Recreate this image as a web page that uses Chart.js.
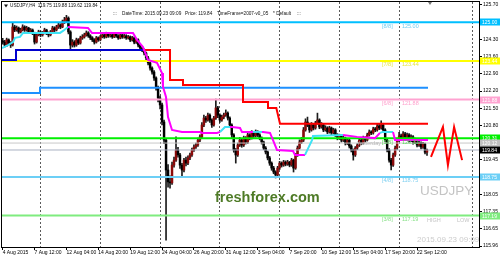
<!DOCTYPE html>
<html>
<head>
<meta charset="utf-8">
<title>USDJPY H4</title>
<script src="https://cdn.jsdelivr.net/npm/chart.js@4.4.0/dist/chart.umd.min.js"></script>
<style>
  html, body { margin: 0; padding: 0; background: #fff; }
  canvas { display: block; }
</style>
</head>
<body>
<canvas id="chart" width="500" height="258"></canvas>
<script>
"use strict";

// H4 bars from 4 Aug 2015 20:00, bar index = position on the axis
var firstOpen = 124.25;
var closes = [
  124.20,124.08,124.29,124.16,124.08,124.81,124.69,124.77,124.61,124.69,
  124.81,124.69,124.77,124.61,124.69,124.57,124.20,124.49,124.61,124.49,
  124.57,124.69,124.57,124.49,124.61,124.77,124.69,124.81,124.89,124.81,
  125.01,125.09,125.17,124.61,124.08,124.20,124.08,124.29,124.16,124.37,
  124.41,124.49,124.57,124.45,124.37,124.29,124.20,124.37,124.29,124.41,
  124.49,124.41,124.53,124.45,124.49,124.41,124.53,124.45,124.37,124.49,
  124.41,124.45,124.37,124.41,124.29,124.37,124.20,124.29,124.08,123.96,
  123.88,123.76,123.56,123.36,123.15,122.99,122.75,122.35,121.94,121.66,
  120.97,120.24,119.03,118.55,118.51,119.23,119.43,119.84,119.64,119.23,
  119.03,119.43,119.31,119.52,119.64,119.84,119.96,120.04,120.24,120.37,
  120.85,121.13,121.05,121.25,121.05,120.85,121.13,121.54,121.25,121.05,
  121.17,121.25,121.33,121.13,120.85,120.45,119.84,119.64,120.04,120.24,
  120.04,120.32,120.16,120.45,120.32,120.53,120.41,120.57,120.45,120.32,
  120.16,119.92,119.76,119.52,119.31,119.11,118.95,118.83,119.11,119.31,
  119.23,119.35,119.27,119.35,119.23,119.43,119.11,119.64,119.92,120.16,
  120.24,120.65,120.97,120.85,120.65,120.85,120.73,120.93,121.05,120.77,
  120.85,120.65,120.73,120.57,120.73,120.53,120.65,120.45,120.32,120.41,
  120.24,120.32,120.12,120.24,120.00,119.84,119.64,119.92,120.04,120.24,
  120.12,120.32,120.24,120.45,120.57,120.53,120.69,120.65,120.81,120.73,
  120.85,120.65,120.24,119.84,119.43,119.23,119.64,119.92,120.24,120.41,
  120.32,120.49,120.37,120.45,120.24,120.37,120.16,120.24,120.04,120.12,
  119.96,120.08,119.75,119.84
];
var highs = [
  124.35,124.27,124.36,124.33,124.22,124.97,124.88,124.85,124.81,124.76,
  124.90,124.86,124.84,124.80,124.75,124.73,124.60,124.55,124.68,124.65,
  124.63,124.76,124.72,124.61,124.67,124.84,124.82,124.88,124.96,124.94,
  125.09,125.20,125.28,125.22,124.66,124.30,124.26,124.36,124.34,124.44,
  124.50,124.56,124.65,124.62,124.50,124.42,124.34,124.43,124.41,124.47,
  124.56,124.54,124.60,124.58,124.55,124.53,124.59,124.57,124.50,124.55,
  124.53,124.51,124.50,124.47,124.45,124.43,124.41,124.35,124.33,124.13,
  124.02,123.93,123.80,123.62,123.42,123.20,123.05,122.80,122.42,122.02,
  121.74,121.05,120.30,119.25,118.80,119.35,119.55,120.37,119.95,119.70,
  119.30,119.50,119.55,119.60,119.72,119.92,120.05,120.12,120.32,120.45,
  120.95,121.25,121.20,121.33,121.30,121.10,121.20,121.90,121.60,121.30,
  121.25,121.33,121.46,121.38,121.18,120.90,120.50,119.90,120.12,120.35,
  120.30,120.40,120.38,120.53,120.50,120.62,120.58,120.65,120.62,120.50,
  120.37,120.20,119.98,119.80,119.58,119.36,119.18,119.00,119.18,119.38,
  119.36,119.42,119.40,119.42,119.38,119.50,119.47,119.70,120.00,120.25,
  120.35,120.75,121.10,121.17,120.92,120.95,120.90,121.00,121.33,121.10,
  120.95,120.90,120.82,120.78,120.80,120.77,120.72,120.70,120.50,120.48,
  120.45,120.40,120.36,120.30,120.28,120.05,119.88,119.98,120.10,120.30,
  120.30,120.40,120.38,120.52,120.65,120.62,120.76,120.75,120.90,120.88,
  121.02,120.92,120.70,120.30,119.90,119.50,119.72,120.00,120.32,120.55,
  120.48,120.58,120.55,120.52,120.50,120.45,120.42,120.32,120.30,120.20,
  120.17,120.15,120.12,119.88
];
var lows = [
  124.12,124.00,124.02,124.10,123.98,124.04,124.62,124.64,124.55,124.57,
  124.65,124.63,124.64,124.55,124.57,124.50,124.12,124.16,124.45,124.42,
  124.44,124.53,124.50,124.41,124.45,124.57,124.62,124.65,124.75,124.74,
  124.78,124.95,125.02,124.53,123.88,124.00,124.00,124.03,124.10,124.12,
  124.31,124.36,124.44,124.39,124.30,124.22,124.12,124.16,124.23,124.25,
  124.37,124.35,124.37,124.39,124.40,124.35,124.38,124.39,124.31,124.33,
  124.35,124.36,124.31,124.32,124.22,124.24,124.13,124.15,124.00,123.90,
  123.81,123.68,123.48,123.28,123.07,122.90,122.65,122.26,121.78,121.50,
  120.85,120.10,116.20,118.34,118.30,118.45,119.15,119.38,119.55,119.10,
  118.75,118.95,119.20,119.25,119.45,119.58,119.78,119.90,119.98,120.18,
  120.32,120.78,120.95,121.00,120.95,120.75,120.80,121.08,121.15,120.95,
  121.00,121.10,121.20,121.05,120.75,120.35,119.75,119.31,119.58,119.98,
  119.95,119.98,120.08,120.10,120.25,120.28,120.35,120.36,120.38,120.25,
  120.08,119.85,119.68,119.44,119.22,119.02,118.88,118.71,118.78,119.05,
  119.15,119.18,119.20,119.22,119.16,119.18,118.95,119.06,119.58,119.88,
  120.10,120.18,120.60,120.78,120.55,120.60,120.65,120.68,120.88,120.70,
  120.72,120.58,120.60,120.50,120.52,120.45,120.48,120.38,120.25,120.27,
  120.16,120.18,120.04,120.06,119.92,119.76,119.43,119.58,119.86,119.98,
  120.05,120.08,120.16,120.20,120.40,120.46,120.48,120.58,120.60,120.66,
  120.68,120.58,120.16,119.76,119.35,119.03,119.18,119.58,119.86,120.18,
  120.25,120.27,120.30,120.32,120.16,120.18,120.08,120.10,119.96,119.98,
  119.88,119.90,119.68,119.62
];

// time axis
var xTickBars = [0,16,32,48,64,80,96,112,128,144,160,176,192,208];
var xTickLabels = ['4 Aug 2015','7 Aug 12:00','12 Aug 04:00','14 Aug 20:00','19 Aug 12:00',
  '24 Aug 04:00','26 Aug 20:00','31 Aug 12:00','3 Sep 04:00','7 Sep 20:00','10 Sep 12:00',
  '15 Sep 04:00','17 Sep 20:00','22 Sep 12:00'];
var gridBars = [19,49,79,109,139,169,199,236];

// price axis
var yTicks = [125.70,125.00,124.31,123.61,122.92,122.22,121.53,120.83,120.14,119.44,118.75,118.05,117.35,116.66,115.96];
var yTickText = ['125.70','125.00','124.30','123.60','122.90','122.20','121.50','120.80','120.13','119.45',
  '118.75','118.05','117.35','116.65','115.96'];

// Murrey math levels
var murreyValues = [125.00, 123.44, 121.88, 120.31, 118.75, 117.19];
var murreyTags = ['[8/8]','[7/8]','[6/8]','[5/8]','[4/8]','[3/8]'];
var murreyText = ['125.00','123.44','121.88','120.31','118.75','117.19'];
var yesterdayClose = 120.12;
var lastPrice = 119.84;

// dodger blue step level
var blueBars = [-0.35, 18.72, 18.72, 213.5];
var blueValues = [122.14, 122.14, 122.35, 122.35];
// trailing stops
var supportBars = [-0.35, 6.68, 6.68, 70.43];
var supportValues = [123.48, 123.48, 123.88, 123.88];
var resistBars = [67.42, 83.99, 83.99, 90.51, 90.51, 120.63, 120.63, 133.18, 133.18, 137.36, 139.21, 213.5];
var resistValues = [123.88, 123.88, 122.67, 122.67, 122.47, 122.47, 121.78, 121.78, 121.54, 121.54, 120.90, 120.90];
// two-coloured trend line (1 = up / cyan, 0 = down / magenta)
var trendBars = [-0.35,2.66,5.17,6.17,8.68,10.19,28.76,30.27,32.78,42.82,44.83,65.41,67.42,70.43,72.94,77.46,
  79.97,80.47,81.98,82.99,84.99,90.01,99.05,100.05,107.58,109.09,111.6,114.11,115.11,119.13,120.13,
  125.65,126.66,130.17,130.67,134.19,135.69,137.7,145.73,146.74,151.76,155.27,155.77,170.83,177.86,
  186.9,189.4,190.92,195.94,196.94,213.5];
var trendValues = [123.96,124.08,124.20,124.37,124.41,124.57,124.57,124.65,124.81,124.77,124.57,124.57,124.29,
  124.00,123.48,123.36,122.95,122.39,121.98,121.17,120.65,120.57,120.57,120.53,120.53,120.57,120.77,
  120.77,120.77,120.73,120.57,120.57,120.57,120.57,120.57,120.53,120.24,119.84,119.80,119.64,119.64,
  120.24,120.41,120.45,120.37,120.32,120.53,120.57,120.57,120.24,120.24];
var trendUp = [1,1,1,1,1,1,1,1,0,0,0,0,0,0,0,0,0,0,0,0,0,0,0,0,0,1,1,0,0,0,0,1,1,0,0,0,0,0,0,0,
  1,1,1,0,0,0,1,1,0,0,0];
// projected zigzag
var zigBars = [215.0, 221.0, 223.5, 226.6, 230.6];
var zigValues = [119.56, 120.77, 119.23, 120.77, 119.43];

var X_MIN = -0.35, X_MAX = 239.1;
var Y_MIN = 115.92, Y_MAX = 125.82;
var FONT = '"Liberation Sans", Arial, sans-serif';

var bars = closes.map(function (c, i) { return i; });
var opens = closes.map(function (c, i) { return i === 0 ? firstOpen : closes[i - 1]; });

function points(xs, ys) {
  return xs.map(function (x, i) { return {x: x, y: ys[i]}; });
}

function lineSet(data, color, width, order) {
  return {
    type: 'line', data: data, borderColor: color, borderWidth: width,
    pointRadius: 0, fill: false, tension: 0, order: order,
    xAxisID: 'x', yAxisID: 'y'
  };
}

var murreyColors = ['#00bfff', '#ffff00', '#ffa3d1', '#00f000', '#6ccff6', '#7fec7f'];
var murreyTextColors = ['#6fcdf2', '#e6e640', '#ff9fcc', '#55d855', '#7dcff0', '#86e086'];

var datasets = [];

// candles: wicks then bodies
datasets.push({
  data: bars.map(function (i) { return {x: i, y: [lows[i], highs[i]]}; }),
  backgroundColor: '#1c1c1c', barThickness: 1, grouped: false, order: 10,
  xAxisID: 'x', yAxisID: 'y'
});
datasets.push({
  data: bars.map(function (i) { return {x: i, y: [opens[i], closes[i]]}; }),
  backgroundColor: function (ctx) {
    var i = ctx.dataIndex;
    return closes[i] >= opens[i] ? '#8b0a0a' : '#000000';
  },
  barThickness: 1.8, minBarLength: 1, grouped: false, order: 9,
  xAxisID: 'x', yAxisID: 'y'
});

murreyValues.forEach(function (v, k) {
  datasets.push(lineSet(points([X_MIN, X_MAX], [v, v]), murreyColors[k], 2, 5));
});
datasets.push(lineSet(points([X_MIN, X_MAX], [yesterdayClose, yesterdayClose]), '#c8c8c8', 1, 5));
datasets.push(lineSet(points([X_MIN, X_MAX], [lastPrice, lastPrice]), '#a9b1c2', 1, 5));
datasets.push(lineSet(points(blueBars, blueValues), '#1e90ff', 2, 4));
datasets.push(lineSet(points(supportBars, supportValues), '#0000cd', 2, 2));
datasets.push(lineSet(points(resistBars, resistValues), '#ff0000', 2, 2));

var trend = lineSet(points(trendBars, trendValues), '#ff00ff', 2, 1);
trend.segment = {
  borderColor: function (ctx) { return trendUp[ctx.p0DataIndex] ? '#3ee3f5' : '#ff00ff'; }
};
datasets.push(trend);
datasets.push(lineSet(points(zigBars, zigValues), '#ff0000', 2, 1));

// text, labels and price tags
var overlay = {
  id: 'overlay',
  beforeDatasetsDraw: function (chart) {
    var ctx = chart.ctx, a = chart.chartArea;
    ctx.save();
    ctx.beginPath();
    ctx.rect(a.left, a.top, a.right - a.left, a.bottom - a.top);
    ctx.clip();
    ctx.textBaseline = 'alphabetic';
    ctx.fillStyle = '#4e7b26';
    ctx.font = 'bold 14.5px ' + FONT;
    ctx.fillText('freshforex.com', 215, 202);
    ctx.fillStyle = '#c4c4c4';
    ctx.font = '13.5px ' + FONT;
    ctx.fillText('USDJPY', 420, 195);
    ctx.font = '5.5px ' + FONT;
    ctx.fillText('HIGH', 427, 222);
    ctx.fillText('LOW', 457, 222);
    ctx.fillStyle = '#cdcdcd';
    ctx.font = '8px ' + FONT;
    ctx.fillText('2015.09.23 09:09', 417, 242);
    ctx.restore();
  },
  afterDatasetsDraw: function (chart) {
    var ctx = chart.ctx, xs = chart.scales.x, ys = chart.scales.y;
    ctx.save();
    ctx.textBaseline = 'middle';
    ctx.font = '5.5px ' + FONT;
    murreyValues.forEach(function (v, k) {
      var y = ys.getPixelForValue(v) + 4;
      ctx.fillStyle = murreyTextColors[k];
      ctx.fillText(murreyTags[k], xs.getPixelForValue(190.4), y);
      ctx.fillText(murreyText[k], xs.getPixelForValue(200.4), y);
    });
    ctx.fillStyle = '#b8b8b8';
    ctx.textAlign = 'right';
    ctx.fillText('Yesterday', xs.getPixelForValue(189.9), ys.getPixelForValue(yesterdayClose));
    ctx.textAlign = 'left';

    // header
    ctx.fillStyle = '#111';
    ctx.font = '4.7px ' + FONT;
    ctx.fillText('USDJPY,H4  119.75 119.88 119.62 119.84', 10, 6);
    ctx.fillText(':::', 113, 13.5);
    ctx.fillText('DateTime: 2015.09.23 09:09', 122, 13.5);
    ctx.fillText('Price: 119.84', 185, 13.5);
    ctx.fillText('TimeFrame=2007-v0_05', 217, 13.5);
    ctx.fillText('* Default', 273, 13.5);
    ctx.fillText(':::', 297, 13.5);
    ctx.beginPath();
    ctx.moveTo(4, 4.5); ctx.lineTo(8, 4.5); ctx.lineTo(6, 7.5);
    ctx.closePath();
    ctx.fill();
    // shift marker
    var sx = xs.getPixelForValue(214.5);
    ctx.fillStyle = '#777';
    ctx.beginPath();
    ctx.moveTo(sx - 2, 2); ctx.lineTo(sx + 2, 2); ctx.lineTo(sx, 5);
    ctx.closePath();
    ctx.fill();
    ctx.restore();
  },
  afterDraw: function (chart) {
    var ctx = chart.ctx, a = chart.chartArea, ys = chart.scales.y;
    ctx.save();
    ctx.strokeStyle = '#000';
    ctx.lineWidth = 1;
    ctx.strokeRect(a.left - 0.5, a.top - 0.5, a.right - a.left + 1, a.bottom - a.top + 1);
    var tags = murreyValues.concat([yesterdayClose, lastPrice]);
    var tagText = murreyText.concat(['120.12', '119.84']);
    var tagColors = murreyColors.concat(['#c0c0c0', '#000000']);
    ctx.font = '5px ' + FONT;
    ctx.textBaseline = 'middle';
    tags.forEach(function (v, k) {
      var y = Math.round(ys.getPixelForValue(v));
      ctx.fillStyle = tagColors[k];
      ctx.fillRect(a.right + 1, y - 3.5, 21, 7);
      ctx.fillStyle = '#fff';
      ctx.fillText(tagText[k], a.right + 3, y + 0.5);
    });
    ctx.restore();
  }
};

var chart = new Chart(document.getElementById('chart').getContext('2d'), {
  type: 'bar',
  data: {datasets: datasets},
  options: {
    responsive: false,
    animation: false,
    events: [],
    layout: {padding: {left: 2, top: 2, right: 0, bottom: 0}},
    plugins: {legend: {display: false}, tooltip: {enabled: false}},
    scales: {
      x: {
        type: 'linear', position: 'bottom', min: X_MIN, max: X_MAX, offset: false,
        afterBuildTicks: function (s) { s.ticks = xTickBars.map(function (v) { return {value: v}; }); },
        afterFit: function (s) { s.height = 11; s.paddingLeft = 0; s.paddingRight = 0; },
        ticks: {
          autoSkip: false, maxRotation: 0, align: 'start', padding: 0, color: '#000',
          font: {size: 5, family: FONT},
          callback: function (v, i) { return xTickLabels[i]; }
        },
        grid: {offset: false, drawOnChartArea: false, tickLength: 3, color: '#000'},
        border: {color: '#000'}
      },
      // weekly separators, dotted
      xg: {
        type: 'linear', position: 'top', min: X_MIN, max: X_MAX, offset: false,
        afterBuildTicks: function (s) { s.ticks = gridBars.map(function (v) { return {value: v}; }); },
        afterFit: function (s) { s.height = 0; s.paddingLeft = 0; s.paddingRight = 0; },
        ticks: {display: false},
        grid: {offset: false, drawTicks: false, color: '#5a5a5a', lineWidth: 1, borderDash: [2, 2]},
        border: {display: false, dash: [2, 2]}
      },
      y: {
        type: 'linear', position: 'right', min: Y_MIN, max: Y_MAX,
        afterBuildTicks: function (s) { s.ticks = yTicks.map(function (v) { return {value: v}; }); },
        afterFit: function (s) { s.width = 21; s.paddingTop = 0; s.paddingBottom = 0; },
        ticks: {
          padding: 1, color: '#000', font: {size: 5, family: FONT},
          callback: function (v, i) { return yTickText[i]; }
        },
        grid: {drawOnChartArea: false, tickLength: 3, color: '#000'},
        border: {color: '#000'}
      }
    }
  },
  plugins: [overlay]
});
</script>
</body>
</html>
